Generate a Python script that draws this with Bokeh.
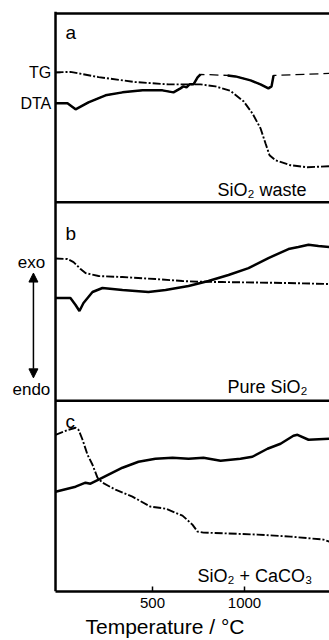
import math
from bokeh.plotting import figure
from bokeh.models import Range1d, Span, Arrow, NormalHead, FixedTicker
from bokeh.core.properties import value
from bokeh.embed import file_html
from bokeh.resources import INLINE

# ---------------- data (temperature in deg C, signals in arbitrary units) -------------
# panel a: SiO2 waste
tg_a_T = [-27, 54, 207, 408, 587, 679, 761, 842, 924, 995, 1043, 1087, 1114, 1136, 1168, 1250, 1342, 1462]
tg_a_v = [130, 130.5, 125.3, 120.3, 118, 118, 118, 116, 111.5, 101, 89, 74, 59, 47, 42, 37, 35, 36]
dta_a_T = [-27, 38, 82, 152, 245, 337, 446, 554, 614, 652, 668, 685, 701, 723, 745, 761,
           908, 951, 1033, 1087, 1130, 1147, 1158, 1462]
dta_a_v = [99, 99, 93, 100, 107, 110, 112, 112, 110, 114, 116, 115, 118, 118, 125, 128,
           127, 126, 122, 118, 114, 116, 127, 129]
dta_a_faint_after = [15, 22]   # segments drawn faint (off-scale plateau)

# panel b: pure SiO2
tg_b_T = [-27, 38, 71, 109, 136, 207, 337, 516, 663, 750, 880, 1060, 1239, 1462]
tg_b_v = [142.5, 142, 139, 132, 128, 125, 124, 122, 120, 119.3, 119, 118.5, 118, 117]
dta_b_T = [-27, 54, 82, 103, 125, 174, 228, 337, 478, 571, 696, 804, 913, 1022, 1130,
           1239, 1293, 1348, 1402, 1462]
dta_b_v = [103, 103, 96, 90, 98, 109, 113, 111, 109, 111, 115, 120, 126, 133, 143,
           152, 154, 156.3, 155, 154]

# panel c: SiO2 + CaCO3
tg_c_T = [-27, 43, 82, 98, 120, 147, 174, 201, 228, 299, 391, 489, 571, 663, 717, 745,
          777, 886, 1071, 1250, 1429, 1462]
tg_c_v = [157, 162, 164, 162, 152, 137, 127, 114, 109, 102, 95, 85, 83, 76, 67, 60,
          59, 58.3, 57, 55, 52, 50]
dta_c_T = [-27, 82, 136, 163, 207, 261, 337, 424, 516, 609, 696, 777, 870, 978, 1043,
           1125, 1196, 1266, 1288, 1348, 1462]
dta_c_v = [100, 105, 109, 108, 112, 117, 124, 130, 133, 134, 133, 134, 131, 133, 135,
           143, 148, 156, 157, 152, 153]

panel_letters = ["a", "b", "c"]
panel_names = ["SiO\u2082 waste", "Pure SiO\u2082", "SiO\u2082 + CaCO\u2083"]
panel_base = [390, 191, 0]      # stacking offset of each panel
panel_top = 579
x_ticks = [500, 1000, 1500]
side_labels = ["TG", "DTA"]

T_MIN, T_MAX = -27, 1462
FONT = "Liberation Sans"

p = figure(width=329, height=640, output_backend="svg", toolbar_location=None,
           x_range=Range1d(-326, T_MAX), y_range=Range1d(0, panel_top + 2),
           min_border_left=0, min_border_right=0, min_border_top=11, min_border_bottom=48)
p.outline_line_color = None
p.grid.visible = False
p.yaxis.visible = False
p.background_fill_color = "white"
p.border_fill_color = "white"

def off(vals, base):
    return [v + base for v in vals]

# TG curves (dash-dot)
for T, v, b in [(tg_a_T, tg_a_v, panel_base[0]), (tg_b_T, tg_b_v, panel_base[1]),
                (tg_c_T, tg_c_v, panel_base[2])]:
    p.line(T, off(v, b), line_color="black", line_width=1.9, line_dash="8 2 2 2")

# DTA panel a: faint full trace, then solid trace with plateau gaps
p.line(dta_a_T, off(dta_a_v, panel_base[0]), line_color="black", line_width=1.3, line_dash="9 5")
sx, sy = [], []
for i, (t, v) in enumerate(zip(dta_a_T, dta_a_v)):
    sx.append(t)
    sy.append(v + panel_base[0])
    if i in dta_a_faint_after:
        sx.append(math.nan)
        sy.append(math.nan)
p.line(sx, sy, line_color="black", line_width=2.5)

# DTA panels b, c
p.line(dta_b_T, off(dta_b_v, panel_base[1]), line_color="black", line_width=2.5)
p.line(dta_c_T, off(dta_c_v, panel_base[2]), line_color="black", line_width=2.5)

# frame: left line, top line, panel separators
p.add_layout(Span(location=T_MIN, dimension="height", line_color="black", line_width=2.5))
p.segment(x0=[T_MIN] * 3, x1=[T_MAX] * 3, y0=[panel_top, panel_base[0], panel_base[1]],
          y1=[panel_top, panel_base[0], panel_base[1]], line_color="black", line_width=2.5)

# x axis (bottom line limited to the plotting area)
p.xaxis.bounds = (T_MIN, T_MAX)
p.xaxis.ticker = FixedTicker(ticks=x_ticks)
p.xaxis.axis_label = "Temperature / \u00b0C"
p.xaxis.axis_label_text_font = FONT
p.xaxis.axis_label_text_font_style = "normal"
p.xaxis.axis_label_text_font_size = "21px"
p.xaxis.axis_label_text_color = "black"
p.xaxis.axis_label_standoff = 4
p.xaxis.major_label_text_font = FONT
p.xaxis.major_label_text_font_size = "15px"
p.xaxis.major_label_text_color = "black"
p.xaxis.major_label_standoff = 6
p.xaxis.major_tick_in = 5
p.xaxis.major_tick_out = 0
p.xaxis.minor_tick_in = 0
p.xaxis.minor_tick_out = 0
p.xaxis.axis_line_width = 2.5
p.xaxis.axis_line_color = "black"
p.xaxis.major_tick_line_width = 1.5
p.xaxis.major_tick_line_color = "black"

# TG / DTA side marks for panel a
side_y = [tg_a_v[0] + panel_base[0], dta_a_v[0] + panel_base[0]]
p.segment(x0=[T_MIN] * 2, x1=[0] * 2, y0=side_y, y1=side_y, line_color="black", line_width=1.5)
p.text(x=[-50] * 2, y=side_y, text=side_labels, text_font=value(FONT), text_font_size="16px",
       text_align="right", text_baseline="middle", text_color="black")

# panel letters and sample names
letter_y = [560, 359, 170]
p.text(x=[27] * 3, y=letter_y, text=panel_letters, text_font=value(FONT), text_font_size="19px",
       text_align="left", text_baseline="middle", text_color="black")
name_x = [853, 908, 745]
name_y = [402, 205, 16]
p.text(x=name_x, y=name_y, text=panel_names, text_font=value(FONT), text_font_size="18px",
       text_align="left", text_baseline="alphabetic", text_color="black")

# exo / endo with double arrow (left of panel b)
p.text(x=[-158, -158], y=[330, 202], text=["exo", "endo"], text_font=value(FONT),
       text_font_size="17px", text_align="center", text_baseline="middle", text_color="black")
for y_end in (319, 214):
    p.add_layout(Arrow(x_start=-147, y_start=266, x_end=-147, y_end=y_end, start=None,
                       end=NormalHead(size=9, fill_color="black", line_color="black"),
                       line_width=1.5, line_color="black"))

open("out.html", "w").write(file_html(p, INLINE))
